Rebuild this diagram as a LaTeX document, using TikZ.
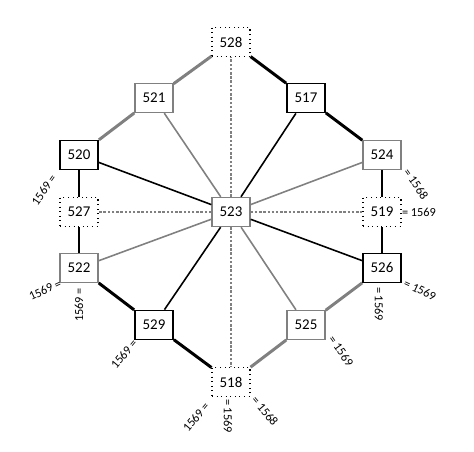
\documentclass[tikz,border=0pt]{standalone}
\usepackage{fontspec}
\setmainfont{Carlito}
\begin{document}
\begin{tikzpicture}[x=0.02cm,y=-0.02cm,
	every node/.style={font=\fontsize{8.5}{10}\selectfont},
	box/.style={draw,minimum width=0.76cm,minimum height=0.58cm,inner sep=0pt},
	bbox/.style={box,line width=1pt},
	gbox/.style={box,draw=gray,line width=0.8pt},
	dbox/.style={box,dotted,line width=0.6pt},
	thk/.style={line width=1.7pt},
	thn/.style={line width=0.9pt},
	dotln/.style={gray,densely dotted,line width=1.4pt},
	lbl/.style={font=\fontsize{7}{8}\selectfont,inner sep=0pt}]
		\useasboundingbox (0,0) rectangle (474,452);
		% boxes
		\node[dbox] (n528) at (231,42) {528};
		\node[gbox] (n521) at (154,98) {521};
		\node[bbox] (n517) at (306,98) {517};
		\node[bbox] (n520) at (79,155) {520};
		\node[dbox] (n527) at (79,212) {527};
		\node[gbox] (n522) at (79,268) {522};
		\node[gbox] (n524) at (382,155) {524};
		\node[dbox] (n519) at (382,212) {519};
		\node[bbox] (n526) at (382,268) {526};
		\node[bbox] (n529) at (154,325) {529};
		\node[gbox] (n525) at (306,325) {525};
		\node[dbox] (n518) at (231,382) {518};
		\node[gbox] (n523) at (231,212) {523};
		% outer ring
		\draw[thk,gray] (n528) -- (n521);
		\draw[thk] (n528) -- (n517);
		\draw[thk,gray] (n521) -- (n520);
		\draw[thk] (n517) -- (n524);
		\draw[thk] (n520) -- (n527);
		\draw[thk] (n527) -- (n522);
		\draw[thk] (n524) -- (n519);
		\draw[thk] (n519) -- (n526);
		\draw[thk] (n522) -- (n529);
		\draw[thk,gray] (n526) -- (n525);
		\draw[thk] (n529) -- (n518);
		\draw[thk,gray] (n525) -- (n518);
		% spokes
		\draw[dotln] (n523) -- (n528);
		\draw[dotln] (n523) -- (n518);
		\draw[dotln] (n523) -- (n527);
		\draw[dotln] (n523) -- (n519);
		\draw[thn,gray] (n523) -- (n521);
		\draw[thn,gray] (n523) -- (n524);
		\draw[thn,gray] (n523) -- (n522);
		\draw[thn,gray] (n523) -- (n525);
		\draw[thn] (n523) -- (n517);
		\draw[thn] (n523) -- (n520);
		\draw[thn] (n523) -- (n526);
		\draw[thn] (n523) -- (n529);
		% labels
		\node[lbl,rotate=55] (l1) at (44,190) {1569 =};
		\node[lbl,rotate=25] (l2) at (45,290) {1569 =};
		\node[lbl,rotate=90] (l3) at (79,305) {1569 =};
		\node[lbl,rotate=-55] (l4) at (416,184) {= 1568};
		\node[lbl] (l5) at (419,212) {= 1569};
		\node[lbl,rotate=-25] (l6) at (420,290) {= 1569};
		\node[lbl,rotate=-90] (l7) at (379,304) {= 1569};
		\node[lbl,rotate=50] (l8) at (124,354) {1569 =};
		\node[lbl,rotate=-55] (l9) at (341,351) {= 1569};
		\node[lbl,rotate=50] (l10) at (196,417) {1569 =};
		\node[lbl,rotate=-90] (l11) at (228,416) {= 1569};
		\node[lbl,rotate=-50] (l12) at (265,411) {= 1568};
		
		
		\end{tikzpicture}
\end{document}
